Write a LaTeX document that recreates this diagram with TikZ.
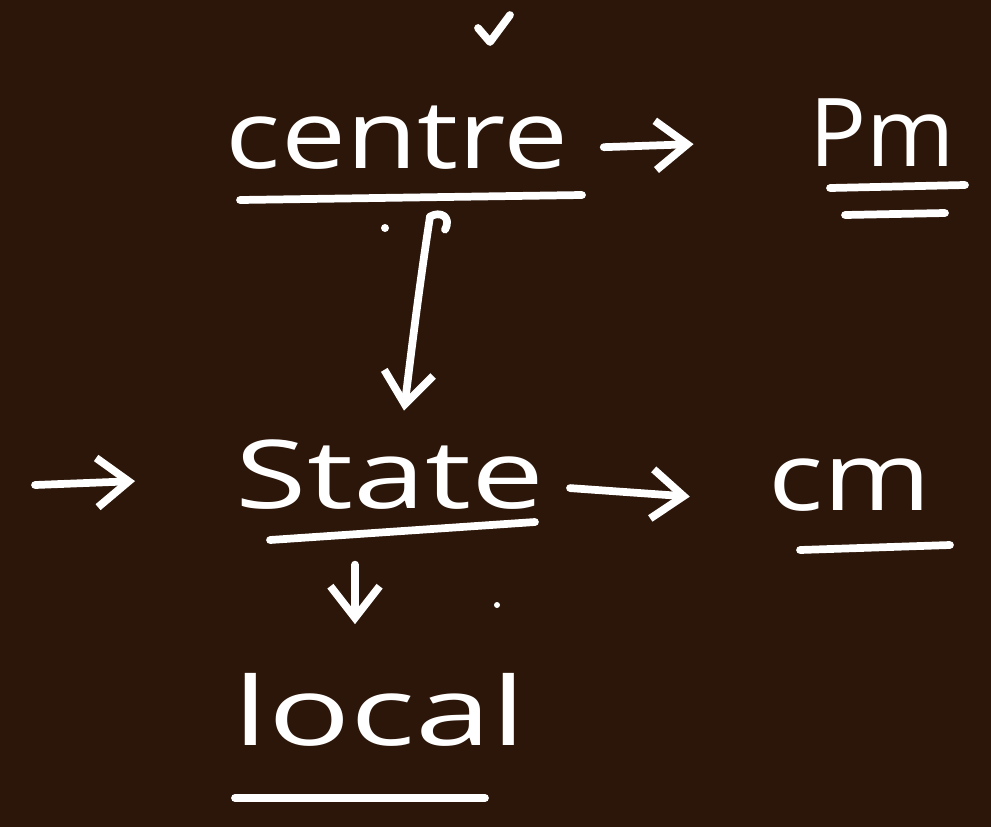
\documentclass[tikz,border=0pt]{standalone}
\usepackage{fontspec}
\setmainfont{Open Sans}
\usetikzlibrary{arrows.meta,calc}
\definecolor{bg}{RGB}{44,21,9}
\tikzset{
  hw/.style={text=white, inner sep=0pt, anchor=base, font=\fontsize{27}{32}\selectfont},
  ink/.style={draw=white, line width=2.2pt, line cap=round, line join=round},
  arr/.style={ink, -{Straight Barb[length=9pt,width=14pt,line width=2.2pt]}}
}
\begin{document}
\begin{tikzpicture}[x=0.01cm,y=-0.01cm]
\fill[bg] (0,0) rectangle (991,827);
\useasboundingbox (0,0) rectangle (991,827);
% texts
\node[hw] (centre) at (397,168) {\scalebox{1.22}[1]{centre}};
\node[hw] (pm) at (882,166) {\scalebox{1.0}[1]{Pm}};
\node[hw] (state) at (390,508) {\scalebox{1.37}[1]{State}};
\node[hw] (cm) at (850,510) {\scalebox{1.22}[1]{cm}};
\node[hw] (local) at (380,745) {\scalebox{1.44}[1]{local}};
% coordinates
\coordinate (lin) at (35,485);
\coordinate (dot1) at (385,228);
\coordinate (dot2) at (497,605);
% underlines
\draw[ink] (240,200) -- (582,195);
\draw[ink] (830,188) -- (965,185);
\draw[ink] (845,215) -- (945,213);
\draw[ink] (270,540) -- (535,522);
\draw[ink] (800,550) -- (950,545);
\draw[ink] (235,798) -- (485,798);
% check mark
\draw[ink] (478,28) -- (490,42) -- (510,15);
% arrows
\draw[arr] ($(centre.east)+(35,10)$) -- ($(pm.west)+(-115,12)$);
\draw[arr] ($(centre.south)+(33,47)$) .. controls +(-12,78) and +(6,-48) .. ($(state.north)+(14,-28)$);
\draw[ink] ($(centre.south)+(33,47)$) .. controls +(10,-6) and +(7,-13) .. ++(15,13);
\draw[arr] (lin) -- ($(state.west)+(-100,7)$);
\draw[arr] ($(state.east)+(25,14)$) -- ($(cm.west)+(-78,12)$);
\draw[arr] ($(state.south)+(-35,55)$) -- ($(local.north)+(-25,-48)$);
\fill[white] (dot1) circle (4);
\fill[white] (dot2) circle (3);
\end{tikzpicture}
\end{document}
